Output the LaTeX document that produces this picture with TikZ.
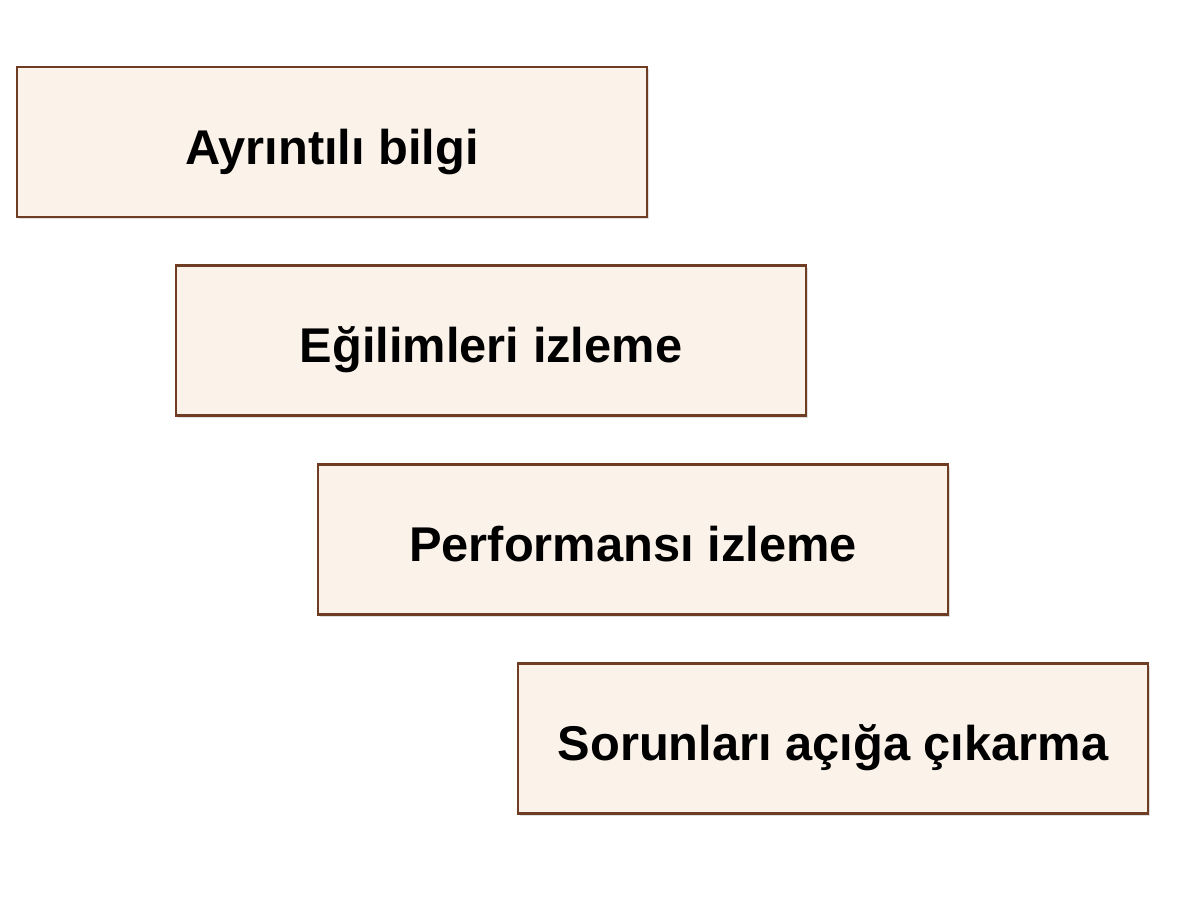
\documentclass[tikz,border=0pt]{standalone}
\usepackage{fontspec}
\setmainfont{Liberation Sans}
\usetikzlibrary{positioning, shadows}

\definecolor{boxfill}{HTML}{FBF3EA}
\definecolor{boxedge}{HTML}{6E3D24}

\begin{document}
\begin{tikzpicture}[
            x = 1pt, y = 1pt,
            node distance = 23pt, % gap between steps
            semithick
        ]

        \tikzset{
            stepbox/.style = {
                draw = boxedge,
                line width = 1.4pt,
                fill = boxfill,
                minimum width = 315pt,
                minimum height = 75pt,
                text height = 22pt, % keeps the baselines alike
                text depth = 0pt,
                font = \fontsize{24.4}{29}\selectfont\bfseries,
                drop shadow = {opacity = 0.25, shadow xshift = 1.2pt, shadow yshift = -1.2pt}
            }
        }

        \useasboundingbox (0,0) rectangle (596.5,-448);

	\node[stepbox] (detay) at (166,-71) {Ayrıntılı bilgi};
	\node[stepbox] (egilim) [below=of detay, xshift=79.5pt] {Eğilimleri izleme};
	\node[stepbox] (perf) [below=of egilim, xshift=71pt] {Performansı izleme};
	\node[stepbox] (sorun) [below=of perf, xshift=100pt] {Sorunları açığa çıkarma};

    \end{tikzpicture}
\end{document}
